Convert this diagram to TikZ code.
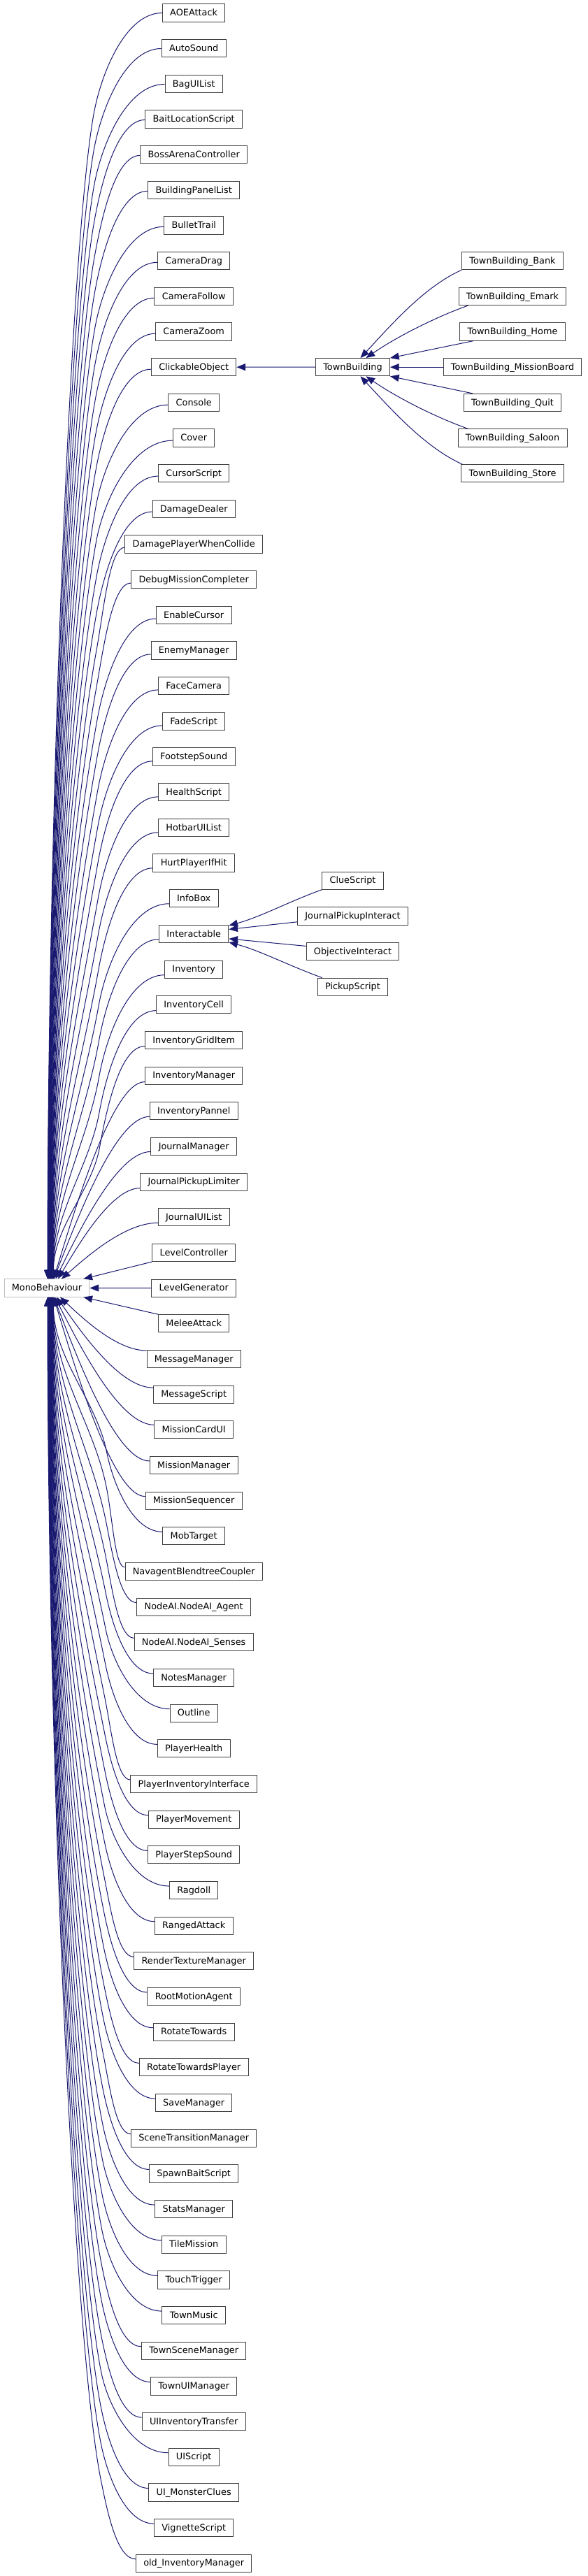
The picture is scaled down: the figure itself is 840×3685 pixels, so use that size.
\documentclass[tikz,border=0pt]{standalone}
\usepackage{fontspec}
\setmainfont{DejaVu Sans}
\usetikzlibrary{arrows.meta,calc}
\definecolor{edgeblue}{HTML}{191970}
\definecolor{nodegray}{HTML}{404040}
\definecolor{monogray}{HTML}{BFBFBF}
\newdimen\qdimx \newdimen\qdimy
\newcommand\qgetS[2]{%
  \pgfextractx{\qdimx}{\pgfpointanchor{#1}{west}}%
  \pgfextracty{\qdimy}{\pgfpointanchor{#1}{west}}%
  \pgfmathsetmacro\qsx{\qdimx/0.75}%
  \pgfmathsetmacro\qsy{-\qdimy/0.75+(#2)}%
}
% far edge, child above MonoBehaviour
\newcommand\farup[3]{%
  \qgetS{#1}{#3}%
  \pgfmathsetmacro\qxk{#2+66}%
  \pgfmathsetmacro\qyk{\qsy+145}%
  \pgfmathsetmacro\qw{\qsx-\qxk}%
  \pgfmathsetmacro\qR{1830-\qyk}%
  \pgfmathsetmacro\qL{min(0.33*\qR,183)}%
  \pgfmathsetmacro\qax{\qsx-0.54*\qw}%
  \pgfmathsetmacro\qbx{\qxk+10.44}%
  \pgfmathsetmacro\qby{\qyk-58}%
  \pgfmathsetmacro\qcx{\qxk-0.18*\qL}%
  \pgfmathsetmacro\qcy{\qyk+\qL}%
  \pgfmathsetmacro\qdy{1830-0.4*\qR}%
  \draw[inh] ($(#1.west)+(0,#3)$) .. controls (\qax,\qsy) and (\qbx,\qby) .. (\qxk,\qyk) .. controls (\qcx,\qcy) and (#2,\qdy) .. ($(mono.north)+(#2-67,0)$);
}
% far edge, child below MonoBehaviour
\newcommand\fardown[3]{%
  \qgetS{#1}{#3}%
  \pgfmathsetmacro\qxk{#2+76}%
  \pgfmathsetmacro\qyk{\qsy-115}%
  \pgfmathsetmacro\qw{\qsx-\qxk}%
  \pgfmathsetmacro\qR{\qyk-1855}%
  \pgfmathsetmacro\qL{min(0.33*\qR,190)}%
  \pgfmathsetmacro\qax{\qsx-0.54*\qw}%
  \pgfmathsetmacro\qbx{\qxk+9.2}%
  \pgfmathsetmacro\qby{\qyk+46}%
  \pgfmathsetmacro\qcx{\qxk-0.2*\qL}%
  \pgfmathsetmacro\qcy{\qyk-\qL}%
  \pgfmathsetmacro\qdy{1855+0.4*\qR}%
  \draw[inh] ($(#1.west)+(0,#3)$) .. controls (\qax,\qsy) and (\qbx,\qby) .. (\qxk,\qyk) .. controls (\qcx,\qcy) and (#2,\qdy) .. ($(mono.south)+(#2-67,0)$);
}
% near edges
\newcommand\nearup[3]{%
  \qgetS{#1}{#3}%
  \pgfmathsetmacro\qD{1830-\qsy}%
  \pgfmathsetmacro\qax{\qsx-0.35*(\qsx-#2)}%
  \pgfmathsetmacro\qbx{#2+0.25*(\qsx-#2)}%
  \pgfmathsetmacro\qby{1830-0.38*\qD}%
  \draw[inh] ($(#1.west)+(0,#3)$) .. controls (\qax,\qsy) and (\qbx,\qby) .. ($(mono.north)+(#2-67,0)$);
}
\newcommand\neardown[3]{%
  \qgetS{#1}{#3}%
  \pgfmathsetmacro\qD{\qsy-1855}%
  \pgfmathsetmacro\qax{\qsx-0.35*(\qsx-#2)}%
  \pgfmathsetmacro\qbx{#2+0.25*(\qsx-#2)}%
  \pgfmathsetmacro\qby{1855+0.38*\qD}%
  \draw[inh] ($(#1.west)+(0,#3)$) .. controls (\qax,\qsy) and (\qbx,\qby) .. ($(mono.south)+(#2-67,0)$);
}
\begin{document}
\begin{tikzpicture}[x=0.75pt,y=-0.75pt,
  cls/.style={draw=nodegray, line width=0.75pt, fill=white, inner xsep=8.1pt, inner ysep=0pt,
    minimum height=18.9pt, text height=8pt, text depth=1.7pt, text=black,
    font=\fontsize{9.65pt}{11pt}\selectfont},
  inh/.style={draw=edgeblue, line width=0.75pt, -{Triangle[length=9.5pt,width=7.5pt]}}]
\fill[white] (0,0) rectangle (840,3685);
\useasboundingbox (0,0) rectangle (840,3685);

\foreach \i/\t in {1/AOEAttack,2/AutoSound,3/BagUIList,4/BaitLocationScript,5/BossArenaController,
  6/BuildingPanelList,7/BulletTrail,8/CameraDrag,9/CameraFollow,10/CameraZoom,11/ClickableObject,
  12/Console,13/Cover,14/CursorScript,15/DamageDealer,16/DamagePlayerWhenCollide,
  17/DebugMissionCompleter,18/EnableCursor,19/EnemyManager,20/FaceCamera,21/FadeScript,
  22/FootstepSound,23/HealthScript,24/HotbarUIList,25/HurtPlayerIfHit,26/InfoBox,27/Interactable,
  28/Inventory,29/InventoryCell,30/InventoryGridItem,31/InventoryManager,32/InventoryPannel,
  33/JournalManager,34/JournalPickupLimiter,35/JournalUIList,36/LevelController,37/LevelGenerator,
  38/MeleeAttack,39/MessageManager,40/MessageScript,41/MissionCardUI,42/MissionManager,
  43/MissionSequencer,44/MobTarget,45/NavagentBlendtreeCoupler,46/NodeAI.NodeAI\_Agent,
  47/NodeAI.NodeAI\_Senses,48/NotesManager,49/Outline,50/PlayerHealth,51/PlayerInventoryInterface,
  52/PlayerMovement,53/PlayerStepSound,54/Ragdoll,55/RangedAttack,56/RenderTextureManager,
  57/RootMotionAgent,58/RotateTowards,59/RotateTowardsPlayer,60/SaveManager,
  61/SceneTransitionManager,62/SpawnBaitScript,63/StatsManager,64/TileMission,65/TouchTrigger,
  66/TownMusic,67/TownSceneManager,68/TownUIManager,69/UIInventoryTransfer,70/UIScript,
  71/UI\_MonsterClues,72/VignetteScript,73/old\_InventoryManager}
  {\node[cls] (n\i) at (277.2,{18.5+(\i-1)*50.67}) {\t};}

\node[cls, draw=monogray] (mono) at (67,1842.5) {MonoBehaviour};

\node[cls] (tb) at (504.5,525.2) {TownBuilding};
\node[cls] (tb1) at (733,373.2) {TownBuilding\_Bank};
\node[cls] (tb2) at (733,423.9) {TownBuilding\_Emark};
\node[cls] (tb3) at (733,474.5) {TownBuilding\_Home};
\node[cls] (tb4) at (733,525.2) {TownBuilding\_MissionBoard};
\node[cls] (tb5) at (733,575.9) {TownBuilding\_Quit};
\node[cls] (tb6) at (733,626.5) {TownBuilding\_Saloon};
\node[cls] (tb7) at (733,677.2) {TownBuilding\_Store};

\node[cls] (ia1) at (504.5,1259.7) {ClueScript};
\node[cls] (ia2) at (504.5,1310.4) {JournalPickupInteract};
\node[cls] (ia3) at (504.5,1361.0) {ObjectiveInteract};
\node[cls] (ia4) at (504.5,1411.7) {PickupScript};

% edges to MonoBehaviour
\foreach \i in {1,...,30}{%
  \pgfmathsetmacro\qxe{68+(\i-1)*0.29}%
  \pgfmathsetmacro\qoff{min(9,(\i-1)*0.3)}%
  \farup{n\i}{\qxe}{\qoff}}
\nearup{n31}{76.7}{9}
\nearup{n32}{77}{8}
\nearup{n33}{79.5}{7.5}
\nearup{n34}{83}{9}
\nearup{n35}{88}{8}
\draw[inh] (n36.south west) -- ($(mono.north east)+(-9,0)$);
\draw[inh] (n37.west) -- (mono.east);
\draw[inh] (n38.north west) -- ($(mono.south east)+(-9,0)$);
\neardown{n39}{86}{-12}
\neardown{n40}{81}{-9.5}
\neardown{n41}{78.5}{-7}
\neardown{n42}{77}{-6}
\neardown{n43}{76.7}{-6}
\foreach \i in {44,...,73}{%
  \pgfmathsetmacro\qxe{77-(\i-42)*0.29}%
  \fardown{n\i}{\qxe}{-6}}

% TownBuilding hierarchy
\draw[inh] (tb.west) -- (n11.east);
\draw[inh] (tb1.south west) .. controls +(-54,24) and +(41,-44) .. ($(tb.north)+(11,0)$);
\draw[inh] ($(tb2.south west)+(14,0)$) .. controls +(-45,16) and +(45,-31) .. ($(tb.north)+(19,0)$);
\draw[inh] ($(tb3.south west)+(20,0)$) -- (tb.north east);
\draw[inh] (tb4.west) -- (tb.east);
\draw[inh] ($(tb5.north west)+(13,0)$) -- (tb.south east);
\draw[inh] ($(tb6.north west)+(15,0)$) .. controls +(-45,-16) and +(45,31) .. ($(tb.south)+(19,0)$);
\draw[inh] ($(tb7.north west)+(2,0)$) .. controls +(-54,-24) and +(41,44) .. ($(tb.south)+(11,0)$);

% Interactable hierarchy
\draw[inh] (ia1.south west) .. controls +(-45,16) and +(45,-12) .. ($(n27.east)+(0,-12)$);
\draw[inh] ($(ia2.west)+(0,8.4)$) -- ($(n27.east)+(0,-6.5)$);
\draw[inh] ($(ia3.west)+(0,-7.6)$) -- ($(n27.east)+(0,7)$);
\draw[inh] ($(ia4.north west)+(7,0)$) .. controls +(-45,-16) and +(45,12) .. ($(n27.east)+(0,12)$);
\end{tikzpicture}
\end{document}
